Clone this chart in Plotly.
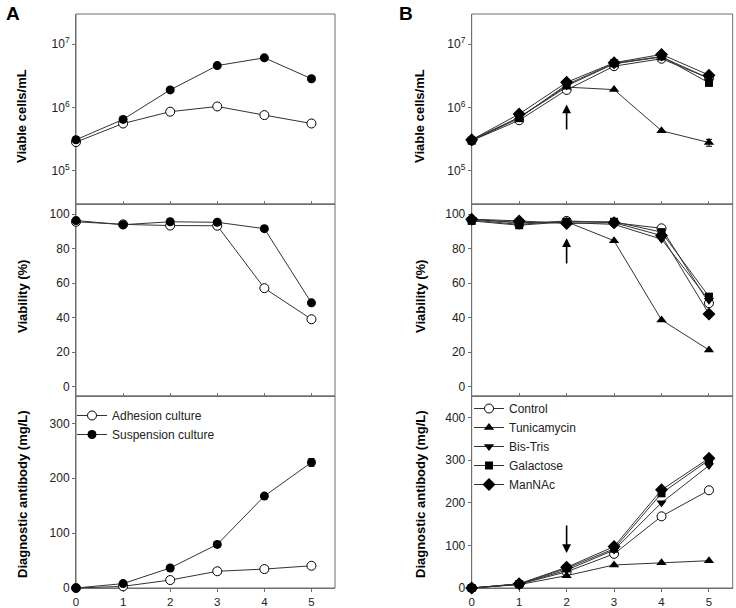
import numpy as np
import plotly.graph_objects as go
from plotly.subplots import make_subplots

# ── Data ──────────────────────────────────────────────────────────
DAYS = [0, 1, 2, 3, 4, 5]

# Panel A : adhesion vs suspension culture
A_VCD_ADH = [2.85e5, 5.6e5, 8.6e5, 1.04e6, 7.6e5, 5.6e5]
A_VCD_SUS = [3.1e5, 6.5e5, 1.9e6, 4.6e6, 6.1e6, 2.85e6]
A_VIA_ADH = [95.5, 94.0, 93.3, 93.2, 57.0, 39.0]
A_VIA_SUS = [96.2, 93.8, 95.5, 95.2, 91.5, 48.5]
A_AB_ADH = [0, 3, 14.5, 30.5, 34.5, 40.5]
A_AB_SUS = [0, 8, 36.5, 79.5, 167.5, 229]
A_AB_SUS_ERR = [0, 0, 0, 5, 0, 7]

# Panel B : additives
B_NAMES = ["Control", "Tunicamycin", "Bis-Tris", "Galactose", "ManNAc"]
B_VCD = {
    "Control":     [3.0e5, 6.3e5, 1.9e6, 4.5e6, 5.9e6, 2.9e6],
    "Tunicamycin": [3.1e5, 7.0e5, 2.1e6, 1.92e6, 4.3e5, 2.8e5],
    "Bis-Tris":    [3.0e5, 7.0e5, 2.2e6, 4.9e6, 6.3e6, 2.9e6],
    "Galactose":   [3.0e5, 6.8e5, 2.3e6, 5.0e6, 6.4e6, 2.45e6],
    "ManNAc":      [3.1e5, 7.9e5, 2.5e6, 5.1e6, 6.9e6, 3.25e6],
}
B_VCD_ERR_TUN = [0, 0, 0, 0, 0, 0.35e5]
B_VIA = {
    "Control":     [96.5, 94.0, 96.0, 95.0, 91.7, 48.3],
    "Tunicamycin": [97.0, 95.0, 95.5, 84.5, 38.6, 21.2],
    "Bis-Tris":    [97.0, 95.0, 95.0, 94.0, 85.4, 50.0],
    "Galactose":   [96.0, 93.5, 95.5, 95.5, 89.5, 52.1],
    "ManNAc":      [97.0, 96.0, 94.5, 95.0, 87.5, 42.1],
}
B_AB = {
    "Control":     [0, 9, 38, 80, 168, 229],
    "Tunicamycin": [0, 8, 29, 54, 59, 64],
    "Bis-Tris":    [0, 9, 42, 89, 200, 287],
    "Galactose":   [0, 9, 46, 92, 222, 300],
    "ManNAc":      [0, 10, 48.5, 97, 230, 304],
}

# arrows at day 2 (tail, head)
ARROW_VCD = [4.25e5, 1.12e6]
ARROW_VIA = [70.5, 86.0]
ARROW_AB = [150, 82]

# ── Styles ────────────────────────────────────────────────────────
LINE = dict(color="#333333", width=1)
OPEN = dict(symbol="circle", size=9, color="white", line=dict(color="black", width=1))
FILL = dict(symbol="circle", size=9, color="black", line=dict(color="black", width=0))
B_MARK = {
    "Control": OPEN,
    "Tunicamycin": dict(symbol="triangle-up", size=9, color="black", line=dict(width=0)),
    "Bis-Tris": dict(symbol="triangle-down", size=9, color="black", line=dict(width=0)),
    "Galactose": dict(symbol="square", size=8, color="black", line=dict(width=0)),
    "ManNAc": dict(symbol="diamond", size=10, color="black", line=dict(width=0)),
}
FONT = "Liberation Sans, Arial, sans-serif"
FRAME = "#6e6e6e"

fig = make_subplots(rows=3, cols=2)


def add(row, col, y, name, marker, legend, show, err=None):
    fig.add_trace(go.Scatter(
        x=DAYS, y=y, mode="lines+markers", name=name,
        line=LINE, marker=marker, cliponaxis=False,
        legend=legend, showlegend=show,
        error_y=dict(type="data", array=err, color="black", thickness=1, width=3,
                     visible=err is not None),
    ), row=row, col=col)


# Panel A
add(1, 1, A_VCD_ADH, "Adhesion culture", OPEN, "legend", False)
add(1, 1, A_VCD_SUS, "Suspension culture", FILL, "legend", False)
add(2, 1, A_VIA_ADH, "Adhesion culture", OPEN, "legend", False)
add(2, 1, A_VIA_SUS, "Suspension culture", FILL, "legend", False)
add(3, 1, A_AB_ADH, "Adhesion culture", OPEN, "legend", True)
add(3, 1, A_AB_SUS, "Suspension culture", FILL, "legend", True, A_AB_SUS_ERR)

# Panel B
for n in B_NAMES:
    add(1, 2, B_VCD[n], n, B_MARK[n], "legend2", False,
        B_VCD_ERR_TUN if n == "Tunicamycin" else None)
    add(2, 2, B_VIA[n], n, B_MARK[n], "legend2", False)
    add(3, 2, B_AB[n], n, B_MARK[n], "legend2", True)

# ── Axes ──────────────────────────────────────────────────────────
XDOM = {1: [76 / 736, 335 / 736], 2: [471.7 / 736, 732.7 / 736]}
YDOM = {1: [1 - 204 / 608, 1 - 14 / 608],
        2: [1 - 396 / 608, 1 - 204 / 608],
        3: [1 - 588 / 608, 1 - 396 / 608]}
AX = dict(showline=True, linecolor=FRAME, linewidth=1, automargin=False,
          showgrid=False, zeroline=False, layer="below traces",
          tickfont=dict(family=FONT, size=12, color="#222222"),
          tickcolor=FRAME)

for row in (1, 2, 3):
    for col in (1, 2):
        fig.update_xaxes(
            AX, domain=XDOM[col], range=[0, 5.5], tickvals=DAYS,
            ticks="outside" if row == 3 else "inside", ticklen=3,
            showticklabels=(row == 3), row=row, col=col)
        fig.update_yaxes(AX, domain=YDOM[row], ticks="outside", ticklen=3,
                         row=row, col=col)
    fig.update_yaxes(type="log", range=[np.log10(3e4), np.log10(3e7)],
                     tickvals=[1e5, 1e6, 1e7],
                     ticktext=["10<sup>5</sup>", "10<sup>6</sup>", "10<sup>7</sup>"],
                     row=1)
    fig.update_yaxes(range=[-5.5, 105.8], tickvals=[0, 20, 40, 60, 80, 100], row=2)
fig.update_yaxes(range=[0, 350], tickvals=[0, 100, 200, 300], row=3, col=1)
fig.update_yaxes(range=[0, 450], tickvals=[0, 100, 200, 300, 400], row=3, col=2)
fig.update_xaxes(tickfont_size=11.5, row=3)

# frame around every panel
for i in range(1, 7):
    sfx = "" if i == 1 else str(i)
    fig.add_shape(type="rect", xref=f"x{sfx} domain", yref=f"y{sfx} domain",
                  x0=0, x1=1, y0=0, y1=1, line=dict(color=FRAME, width=1),
                  layer="below")

# ── Arrows (panel B, day 2) ───────────────────────────────────────
for xr, yr, vals, logy in (("x2", "y2", ARROW_VCD, True),
                           ("x4", "y4", ARROW_VIA, False),
                           ("x6", "y6", ARROW_AB, False)):
    t, h = (np.log10(vals[0]), np.log10(vals[1])) if logy else vals
    fig.add_annotation(x=2, y=h, ax=2, ay=t, xref=xr, yref=yr, axref=xr, ayref=yr,
                       showarrow=True, arrowhead=2, arrowsize=1.1, arrowwidth=1.6,
                       arrowcolor="black", text="")

# ── Text ──────────────────────────────────────────────────────────
TITLE = dict(family=FONT, size=13, color="black")
for xp in (22, 420):
    for txt, yp in (("<b>Viable cells/mL</b>", 116),
                    ("<b>Viability (%)</b>", 297),
                    ("<b>Diagnostic antibody (mg/L)</b>", 494)):
        fig.add_annotation(text=txt, x=xp / 736, y=1 - yp / 608, xref="paper",
                           yref="paper", xanchor="center", yanchor="middle",
                           textangle=-90, showarrow=False, font=TITLE)
for txt, xp in (("<b>A</b>", 13), ("<b>B</b>", 406)):
    fig.add_annotation(text=txt, x=xp / 736, y=1 - 14 / 608, xref="paper",
                       yref="paper", xanchor="center", yanchor="middle",
                       showarrow=False, font=dict(family=FONT, size=19, color="black"))

LEG = dict(bgcolor="rgba(0,0,0,0)", font=dict(family=FONT, size=12, color="#222222"),
           xanchor="left", yanchor="top", tracegroupgap=0, itemwidth=30)
fig.update_layout(
    width=736, height=608,
    margin=dict(l=0, r=0, t=0, b=0, autoexpand=False),
    plot_bgcolor="white", paper_bgcolor="white",
    legend=dict(LEG, x=72 / 736, y=1 - 401 / 608),
    legend2=dict(LEG, x=469 / 736, y=1 - 394 / 608),
)

fig.write_html("out.html", config={"displayModeBar": False},
               post_script="document.body.style.margin='0';")
